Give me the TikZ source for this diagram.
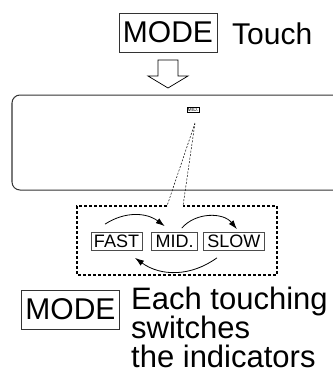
\documentclass[tikz,border=0pt]{standalone}
\usepackage{fontspec}
\setmainfont{Liberation Sans}
\usetikzlibrary{positioning,arrows.meta}
\tikzset{
  key/.style={draw=black!80, line width=0.8pt, inner sep=0pt, minimum width=98pt, minimum height=39pt, font=\fontsize{30}{30}\selectfont},
  ind/.style={draw=black!70, line width=0.7pt, inner xsep=3pt, inner ysep=0pt, minimum height=18pt, font=\fontsize{18}{18}\selectfont},
  cyc/.style={-{Latex[length=9pt,width=6pt]}, line width=0.8pt},
}
\begin{document}
\begin{tikzpicture}[x=1pt,y=-1pt]
\useasboundingbox (0,0) rectangle (333,376);
% top key
\node[key] (mode) at (168,32.5) {MODE};
\node[anchor=base west, inner sep=0pt, font=\fontsize{30}{30}\selectfont] (touch) at (232,44) {Touch};
% hollow arrow
\draw[line width=0.7pt] (158,60) -- (178,60) -- (178,76) -- (188,76) -- (168,88) -- (148,76) -- (158,76) -- cycle;
% display panel
\draw[line width=1pt, black!80, rounded corners=8pt] (345,95) -- (12,95) -- (12,190) -- (345,190);
\node[draw, line width=0.5pt, inner sep=0.6pt, font=\fontsize{5}{5}\selectfont] (midicon) at (193,110) {MID.};
% callout
\coordinate (tip) at (195,123);
\coordinate (gapl) at (167,206);
\coordinate (gapr) at (183,206);
\draw[line width=0.5pt, dash pattern=on 2pt off 1.5pt] (tip) -- (gapl) (tip) -- (gapr);
\draw[line width=1.3pt, dash pattern=on 3pt off 2pt] (gapl) -- (77,206) -- (77,275) -- (277,275) -- (277,206) -- (gapr);
% indicators
\node[ind, minimum width=51pt] (fast) at (116.5,241.5) {FAST};
\node[ind, minimum width=46pt, right=9pt of fast] (mid) {MID.};
\node[ind, minimum width=61pt, right=5pt of mid] (slow) {SLOW};
\draw[cyc] ([xshift=-11.5pt,yshift=8pt]fast.north) to[bend left=35] ([xshift=-10pt,yshift=6pt]mid.north);
\draw[cyc] ([xshift=7pt,yshift=4pt]mid.north) to[bend left=50] ([xshift=3pt,yshift=3pt]slow.north);
\draw[cyc] ([xshift=-17pt,yshift=-7pt]slow.south) to[bend left=36] ([xshift=18.5pt,yshift=-7pt]fast.south);
% bottom key
\node[key] (mode2) at (70.5,309.5) {MODE};
\node[anchor=north west, inner sep=0pt, align=left, font=\fontsize{31}{29}\selectfont] (note) at (131,287) {Each touching\\switches\\the indicators};
\end{tikzpicture}
\end{document}
